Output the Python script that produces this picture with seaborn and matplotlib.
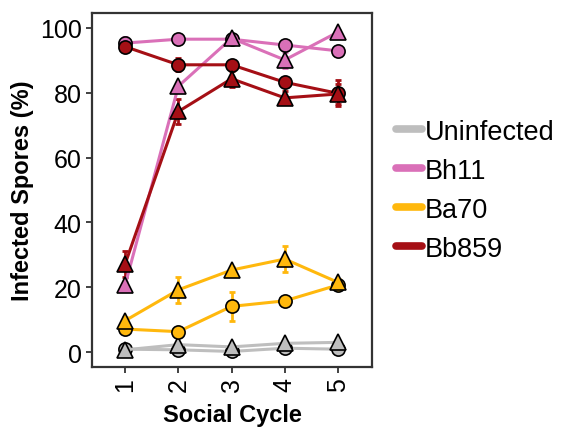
import matplotlib
matplotlib.use("Agg")
import matplotlib.pyplot as plt
import seaborn as sns
import pandas as pd
import numpy as np
from matplotlib.lines import Line2D

cycles = [1, 2, 3, 4, 5]
strains = ["Uninfected", "Bh11", "Ba70", "Bb859"]
colors = {"Uninfected": "#BEBEBE", "Bh11": "#DA70B8", "Ba70": "#FFB80D", "Bb859": "#A50F15"}

# circle series
unin_circle = [0.9, 0.7, 0.2, 1.2, 0.9]
bh11_circle = [95.3, 96.5, 96.5, 94.7, 92.9]
ba70_circle = [7.1, 6.3, 14.1, 15.8, 20.7]
bb859_circle = [94.2, 88.6, 88.6, 83.2, 79.8]
# triangle series
unin_tri = [0.7, 2.3, 1.6, 2.7, 3.0]
bh11_tri = [20.7, 82.0, 96.8, 90.1, 98.7]
ba70_tri = [9.7, 19.2, 25.3, 28.7, 21.5]
bb859_tri = [27.2, 74.2, 84.3, 78.4, 79.6]
# error sizes
unin_circle_err = [0.3, 0.3, 0.3, 0.3, 0.3]
bh11_circle_err = [2.0, 0.5, 0.5, 1.0, 0.5]
ba70_circle_err = [1.0, 1.5, 4.5, 1.0, 1.0]
bb859_circle_err = [1.0, 2.0, 1.5, 1.5, 4.0]
unin_tri_err = [0.3, 0.3, 0.3, 0.3, 0.3]
bh11_tri_err = [1.0, 1.0, 0.5, 2.5, 0.5]
ba70_tri_err = [1.0, 4.0, 1.0, 4.0, 1.0]
bb859_tri_err = [4.0, 4.0, 2.5, 2.0, 3.0]

series = {
    ("Uninfected", "circle"): (unin_circle, unin_circle_err),
    ("Uninfected", "triangle"): (unin_tri, unin_tri_err),
    ("Bh11", "circle"): (bh11_circle, bh11_circle_err),
    ("Bh11", "triangle"): (bh11_tri, bh11_tri_err),
    ("Ba70", "circle"): (ba70_circle, ba70_circle_err),
    ("Ba70", "triangle"): (ba70_tri, ba70_tri_err),
    ("Bb859", "circle"): (bb859_circle, bb859_circle_err),
    ("Bb859", "triangle"): (bb859_tri, bb859_tri_err),
}

rows = []
for (s, m), (vals, errs) in series.items():
    for c, v, e in zip(cycles, vals, errs):
        rows.append({"cycle": c, "value": v, "err": e, "strain": s, "shape": m})
df = pd.DataFrame(rows)

sns.set_theme(style="white")
plt.rcParams["font.family"] = ["Liberation Sans", "DejaVu Sans"]
plt.rcParams["text.color"] = "black"
plt.rcParams["axes.labelcolor"] = "black"
plt.rcParams["xtick.color"] = "black"
plt.rcParams["ytick.color"] = "black"

fig = plt.figure(figsize=(5.62, 4.35), dpi=100)
ax = fig.add_axes([0.164, 0.154, 0.498, 0.814])

for s in strains:
    for m, mk, ms in [("circle", "o", 9.5), ("triangle", "^", 11.5)]:
        sub = df[(df.strain == s) & (df["shape"] == m)]
        ax.errorbar(sub.cycle, sub.value, yerr=sub.err, fmt="none",
                    ecolor=colors[s], elinewidth=2, capsize=2.5, capthick=2, zorder=2)
        sns.lineplot(data=sub, x="cycle", y="value", ax=ax, color=colors[s],
                     linewidth=2.2, marker=mk, markersize=ms,
                     markeredgecolor="black", markeredgewidth=1.2,
                     legend=False, zorder=3)

ax.set_xlim(0.38, 5.64)
ax.set_ylim(-4.6, 104.6)
ax.set_xticks(cycles)
ax.set_yticks([0, 20, 40, 60, 80, 100])
ax.tick_params(axis="x", labelsize=18, rotation=90, length=4, width=1.3, color="#333333",
               labelcolor="black", bottom=True)
ax.tick_params(axis="y", labelsize=18, length=4, width=1.3, color="#333333",
               labelcolor="black", left=True)
ax.set_xlabel("Social Cycle", fontsize=17, fontweight="bold", labelpad=8)
ax.set_ylabel("Infected Spores (%)", fontsize=17, fontweight="bold", labelpad=4)
for sp in ax.spines.values():
    sp.set_color("#333333")
    sp.set_linewidth(1.6)

handles = [Line2D([0], [0], color=colors[s], lw=5.5) for s in strains]
fig.legend(handles, strains, loc="center left", bbox_to_anchor=(0.705, 0.56),
           frameon=False, fontsize=19.5, handlelength=0.95, handletextpad=0.1,
           labelspacing=0.48, borderpad=0.0, borderaxespad=0.0)

fig.savefig("out.png", dpi=100)
